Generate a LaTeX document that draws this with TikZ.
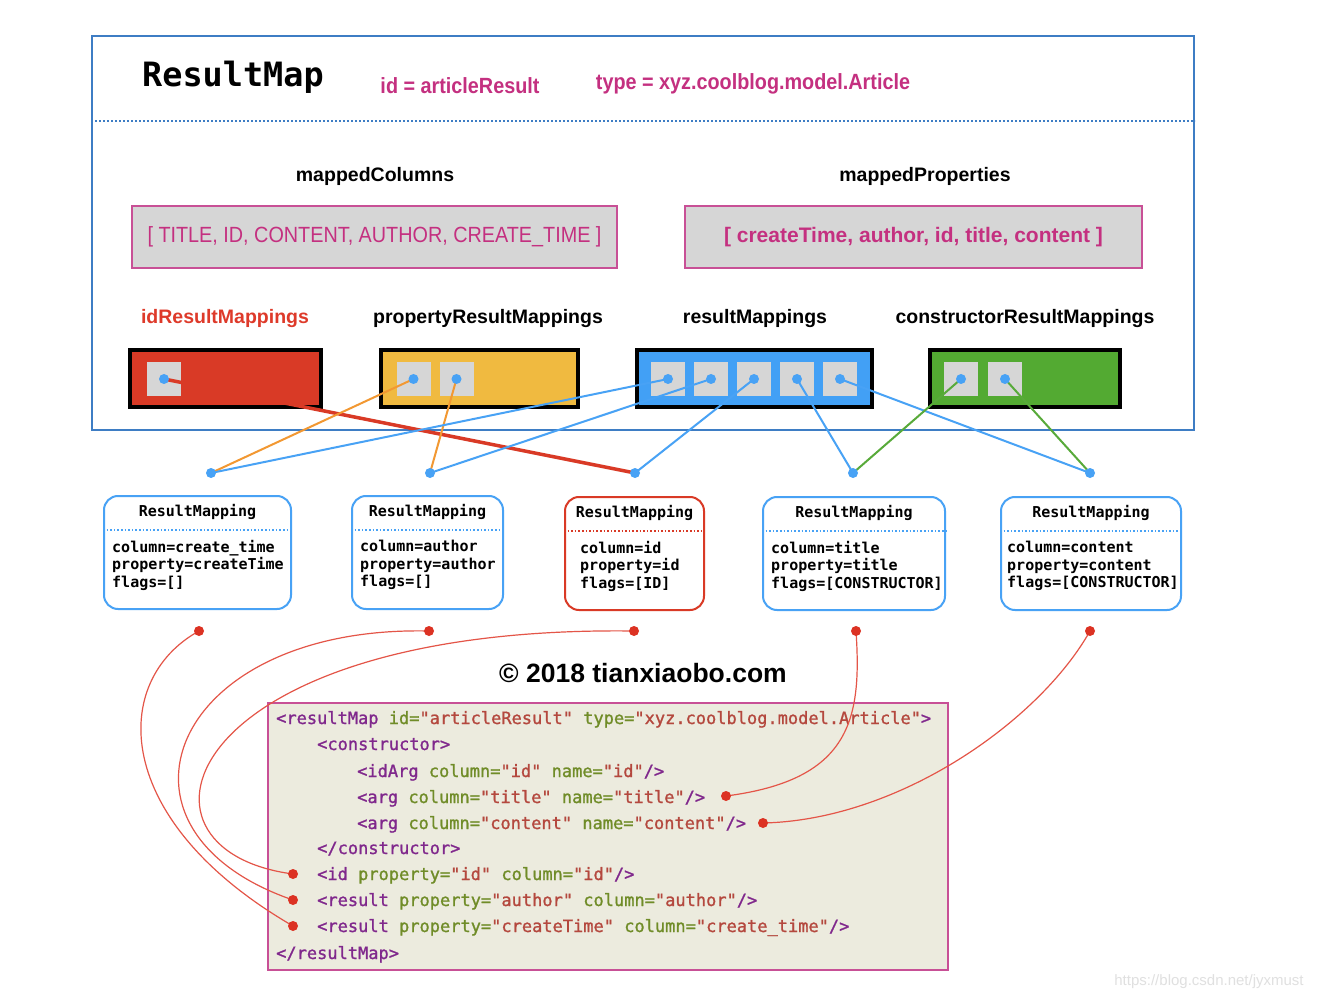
\documentclass[tikz,border=0pt]{standalone}
\usepackage{fontspec}
\setmainfont{Liberation Sans}
\setmonofont{DejaVu Sans Mono}
\newfontfamily\codefont[FakeBold=1.2]{DejaVu Sans Mono}
\newfontfamily\condfont[FakeStretch=0.9]{Liberation Sans}
\definecolor{outerblue}{RGB}{62,125,196}
\definecolor{magtxt}{RGB}{196,48,128}
\definecolor{magborder}{RGB}{200,80,150}
\definecolor{cellgray}{RGB}{214,214,214}
\definecolor{arrred}{RGB}{217,58,38}
\definecolor{arryellow}{RGB}{240,186,64}
\definecolor{arrblue}{RGB}{66,160,245}
\definecolor{arrgreen}{RGB}{83,170,50}
\definecolor{lineblue}{RGB}{72,162,245}
\definecolor{lineorange}{RGB}{242,152,50}
\definecolor{linegreen}{RGB}{88,170,58}
\definecolor{labred}{RGB}{222,58,42}
\definecolor{curvered}{RGB}{228,85,72}
\definecolor{dotred}{RGB}{220,50,35}
\definecolor{codebg}{RGB}{236,235,222}
\definecolor{tagc}{RGB}{128,40,140}
\definecolor{attc}{RGB}{112,140,40}
\definecolor{valc}{RGB}{180,72,62}
\newcommand\cTag[1]{\textcolor{tagc}{#1}}
\newcommand\cAtt[1]{\textcolor{attc}{#1}}
\newcommand\cVal[1]{\textcolor{valc}{#1}}
\tikzset{
  outerbox/.style={draw=outerblue, line width=2pt, inner sep=0},
  sepline/.style={draw=outerblue, line width=2pt, dotted},
  graybox/.style={draw=magborder, fill=cellgray, line width=2pt, inner sep=0, text=magtxt},
  arrbox/.style={draw=black, line width=3.5pt, inner sep=0, minimum height=57pt},
  cellbox/.style={fill=cellgray, minimum size=34pt, inner sep=0},
  headlab/.style={font=\bfseries\fontsize{19.5}{22}\selectfont},
  magtext/.style={font=\condfont\bfseries\fontsize{22}{26}\selectfont, text=magtxt},
  redthick/.style={draw=arrred, line width=3.5pt},
  orangeline/.style={draw=lineorange, line width=2pt},
  blueline/.style={draw=lineblue, line width=2pt},
  greenline/.style={draw=linegreen, line width=2pt},
  bdot/.style={circle, fill=lineblue, minimum size=10pt, inner sep=0},
  rdot/.style={circle, fill=dotred, minimum size=10pt, inner sep=0},
  rmbox/.style={draw=lineblue, line width=2pt, rounded corners=14pt, fill=white, minimum height=113pt, inner sep=0},
  rmred/.style={rmbox, draw=arrred},
  rmtitle/.style={font=\ttfamily\bfseries\fontsize{15}{17.5}\selectfont},
  rmbody/.style={font=\ttfamily\bfseries\fontsize{15}{17.5}\selectfont, align=left, anchor=north west, inner sep=0},
  rmsep/.style={draw=lineblue, line width=1.6pt, dotted},
  redcurve/.style={draw=curvered, line width=1.2pt},
  codebox/.style={draw=magborder, fill=codebg, line width=2pt, inner sep=0},
  code/.style={font=\codefont\fontsize{17}{20}\selectfont, anchor=base west, inner sep=0}
}
\begin{document}
\begin{tikzpicture}[x=1pt,y=-1pt]
\useasboundingbox (0,0) rectangle (1318,1000);
\fill[white] (0,0) rectangle (1318,1000);

% ---------- ResultMap outer box ----------
\node[outerbox, minimum width=1102pt, minimum height=394pt] (rmap) at (643,233) {};
\coordinate (sepy) at (0,121);
\draw[sepline] (rmap.west |- sepy) -- (rmap.east |- sepy);

\node[font=\ttfamily\bfseries\fontsize{33.5}{36}\selectfont, anchor=west, inner sep=0] (title) at (142,77) {ResultMap};
\node[magtext] (idlab) at (460,86) {id = articleResult};
\node[magtext] (typelab) at (753,84) {type = xyz.coolblog.model.Article};

\node[headlab] (mcol) at (375,176) {mappedColumns};
\node[headlab] (mprop) at (925,176) {mappedProperties};

\node[graybox, minimum width=485pt, minimum height=62pt, font=\condfont\fontsize{22}{26}\selectfont] (cols) at (374.5,237) {[ TITLE, ID, CONTENT, AUTHOR, CREATE\_TIME ]};
\node[graybox, minimum width=457pt, minimum height=62pt, font=\bfseries\fontsize{21}{25}\selectfont] (props) at (913.5,237) {[ createTime, author, id, title, content ]};

\node[headlab, text=labred] (lid) at (225,319) {idResultMappings};
\node[headlab] (lprop) at (488,319) {propertyResultMappings};
\node[headlab] (lres) at (755,319) {resultMappings};
\node[headlab] (lcons) at (1025,319) {constructorResultMappings};

% ---------- arrays ----------
\node[arrbox, fill=arrred, minimum width=191pt] (aid) at (225.5,378.5) {};
\node[arrbox, fill=arryellow, minimum width=197pt] (aprop) at (479.5,378.5) {};
\node[arrbox, fill=arrblue, minimum width=235pt] (ares) at (754.5,378.5) {};
\node[arrbox, fill=arrgreen, minimum width=190pt] (acons) at (1025,378.5) {};

\node[cellbox] (r1) at (164,379) {};
\node[cellbox] (y1) at (413.5,379) {};
\node[cellbox] (y2) at (456.5,379) {};
\node[cellbox] (u1) at (668,379) {};
\node[cellbox] (u2) at (711,379) {};
\node[cellbox] (u3) at (754,379) {};
\node[cellbox] (u4) at (797,379) {};
\node[cellbox] (u5) at (840,379) {};
\node[cellbox] (g1) at (961,379) {};
\node[cellbox] (g2) at (1005,379) {};

\coordinate (b1) at (211,473);
\coordinate (b2) at (430,473);
\coordinate (b3) at (635,473);
\coordinate (b4) at (853,473);
\coordinate (b5) at (1090,473);

\draw[redthick] (r1.center) -- (b3);
\draw[orangeline] (y1.center) -- (b1);
\draw[orangeline] (y2.center) -- (b2);
\draw[blueline] (u1.center) -- (b1);
\draw[blueline] (u2.center) -- (b2);
\draw[blueline] (u3.center) -- (b3);
\draw[blueline] (u4.center) -- (b4);
\draw[blueline] (u5.center) -- (b5);
\draw[greenline] (g1.center) -- (b4);
\draw[greenline] (g2.center) -- (b5);

\foreach \n in {r1,y1,y2,u1,u2,u3,u4,u5,g1,g2,b1,b2,b3,b4,b5}
  \node[bdot] (\n dot) at (\n) {};

% ---------- ResultMapping boxes ----------
\coordinate (rsep) at (0,530);
\node[rmbox, minimum width=187pt] (rm1) at (197.5,552.5) {};
\node[rmtitle] (rm1t) at (197.5,512) {ResultMapping};
\draw[rmsep] (rm1.west |- rsep) -- (rm1.east |- rsep);
\node[rmbody] (rm1b) at (112,540) {column=create\_time\\property=createTime\\flags=[]};

\node[rmbox, minimum width=151pt] (rm2) at (427.5,552.5) {};
\node[rmtitle] (rm2t) at (427.5,512) {ResultMapping};
\draw[rmsep] (rm2.west |- rsep) -- (rm2.east |- rsep);
\node[rmbody] (rm2b) at (360,540) {column=author\\property=author\\flags=[]};

\node[rmred, minimum width=139pt] (rm3) at (634.5,553.5) {};
\node[rmtitle] (rm3t) at (634.5,513) {ResultMapping};
\draw[rmsep, draw=arrred] ([yshift=-1pt]rm3.west |- rsep) -- ([yshift=-1pt]rm3.east |- rsep);
\node[rmbody] (rm3b) at (580,541) {column=id\\property=id\\flags=[ID]};

\node[rmbox, minimum width=182pt] (rm4) at (854,553.5) {};
\node[rmtitle] (rm4t) at (854,513) {ResultMapping};
\draw[rmsep] ([yshift=-1pt]rm4.west |- rsep) -- ([yshift=-1pt]rm4.east |- rsep);
\node[rmbody] (rm4b) at (771,541) {column=title\\property=title\\flags=[CONSTRUCTOR]};

\node[rmbox, minimum width=180pt] (rm5) at (1091,553.5) {};
\node[rmtitle] (rm5t) at (1091,513) {ResultMapping};
\draw[rmsep] ([yshift=-1pt]rm5.west |- rsep) -- ([yshift=-1pt]rm5.east |- rsep);
\node[rmbody] (rm5b) at (1007,541) {column=content\\property=content\\flags=[CONSTRUCTOR]};

% ---------- copyright ----------
\node[font=\bfseries\fontsize{26.5}{30}\selectfont] (copy) at (643,673) {© 2018 tianxiaobo.com};

% ---------- code box ----------
\node[codebox, minimum width=680pt, minimum height=267pt] (codeb) at (608,836.5) {};
\node[code] (cl1) at (276,724) {\cTag{<resultMap} \cAtt{id=}\cVal{"articleResult"} \cAtt{type=}\cVal{"xyz.coolblog.model.Article"}\cTag{>}};
\node[code] (cl2) at (317,750) {\cTag{<constructor>}};
\node[code] (cl3) at (357,777) {\cTag{<idArg} \cAtt{column=}\cVal{"id"} \cAtt{name=}\cVal{"id"}\cTag{/>}};
\node[code] (cl4) at (357,803) {\cTag{<arg} \cAtt{column=}\cVal{"title"} \cAtt{name=}\cVal{"title"}\cTag{/>}};
\node[code] (cl5) at (357,829) {\cTag{<arg} \cAtt{column=}\cVal{"content"} \cAtt{name=}\cVal{"content"}\cTag{/>}};
\node[code] (cl6) at (317,854) {\cTag{</constructor>}};
\node[code] (cl7) at (317,880) {\cTag{<id} \cAtt{property=}\cVal{"id"} \cAtt{column=}\cVal{"id"}\cTag{/>}};
\node[code] (cl8) at (317,906) {\cTag{<result} \cAtt{property=}\cVal{"author"} \cAtt{column=}\cVal{"author"}\cTag{/>}};
\node[code] (cl9) at (317,932) {\cTag{<result} \cAtt{property=}\cVal{"createTime"} \cAtt{column=}\cVal{"create\_time"}\cTag{/>}};
\node[code] (cl10) at (276,959) {\cTag{</resultMap>}};

% ---------- red curves ----------
\coordinate (d1) at (199,631);
\coordinate (d2) at (429,631);
\coordinate (d3) at (634,631);
\coordinate (d4) at (856,631);
\coordinate (d5) at (1090,631);
\coordinate (k1) at (726,796);
\coordinate (k2) at (763,823);
\coordinate (k3) at (293,874);
\coordinate (k4) at (293,900);
\coordinate (k5) at (293,926);

\draw[redcurve] (d1) .. controls (110,680) and (110,820) .. (k5);
\draw[redcurve] (d2) .. controls (170,625) and (90,830) .. (k4);
\draw[redcurve] (d3) .. controls (180,625) and (110,850) .. (k3);
\draw[redcurve] (d4) .. controls (862,720) and (850,780) .. (k1);
\draw[redcurve] (d5) .. controls (1040,720) and (900,820) .. (k2);

\foreach \n in {d1,d2,d3,d4,d5,k1,k2,k3,k4,k5}
  \node[rdot] (\n dot) at (\n) {};

\node[font=\fontsize{15}{18}\selectfont, text=black!12] (csdn) at (1209,982) {https://blog.csdn.net/jyxmust};
\end{tikzpicture}
\end{document}
